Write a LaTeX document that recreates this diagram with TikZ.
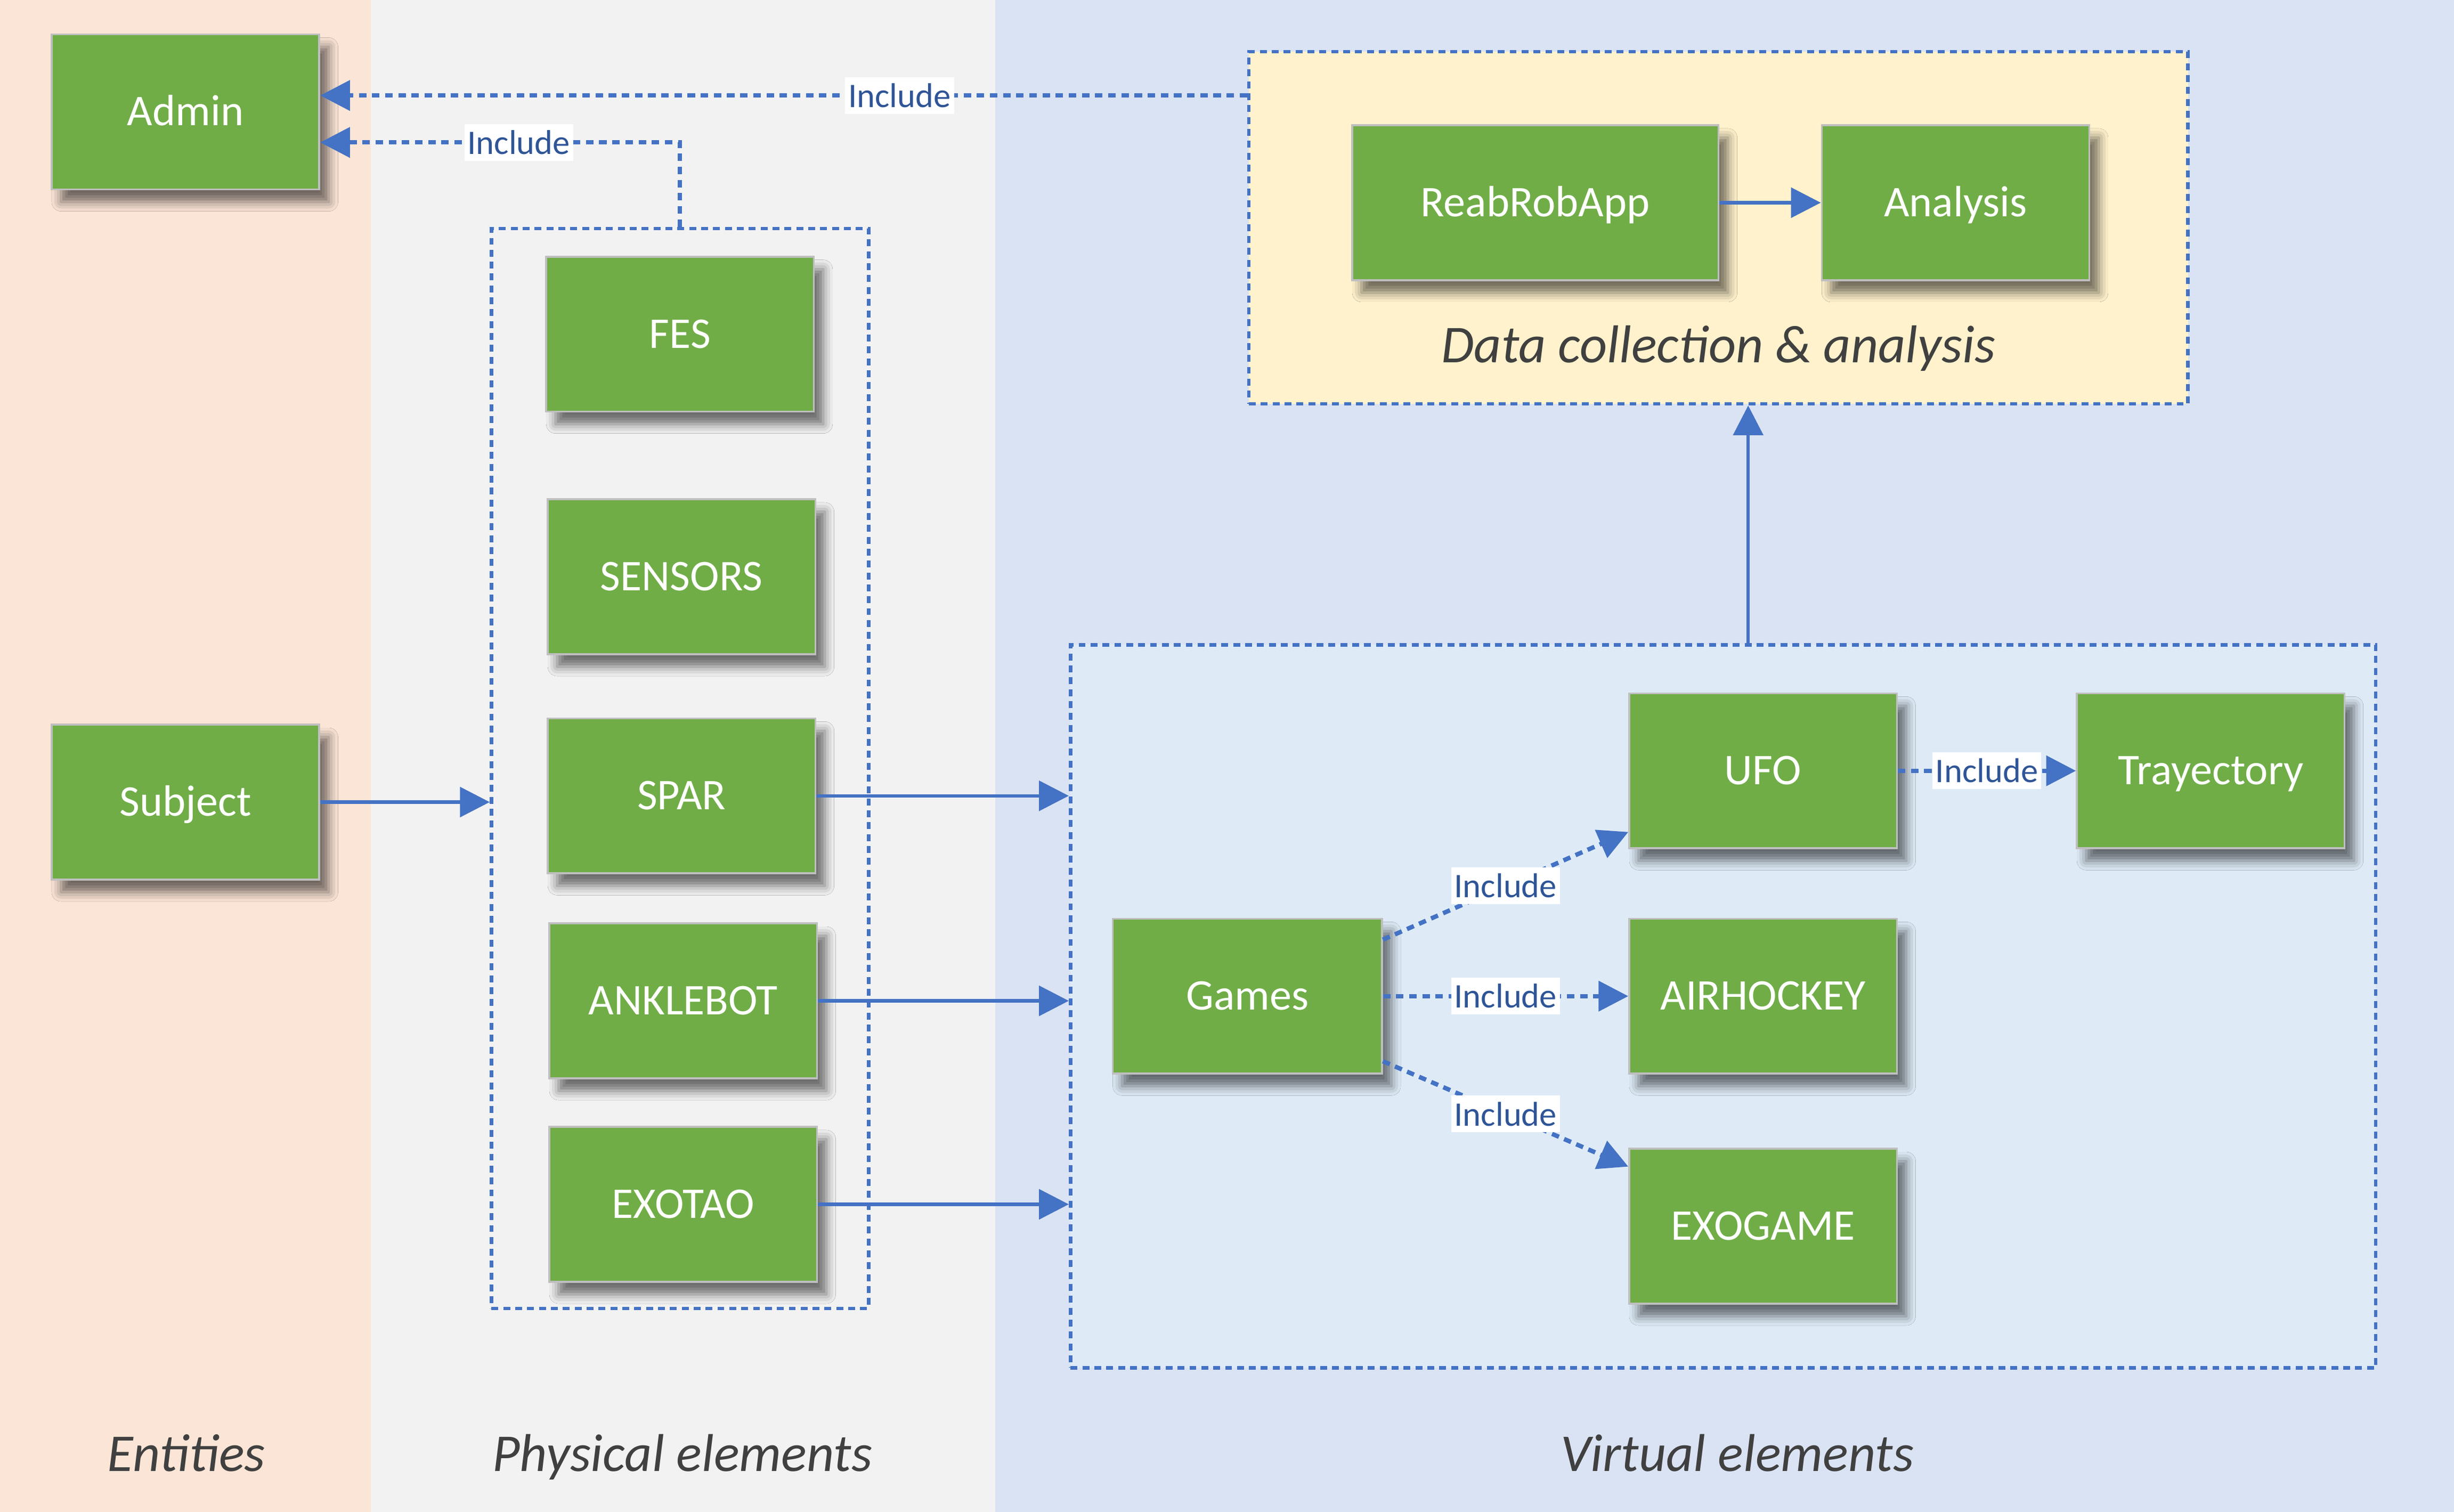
\documentclass[tikz,border=0pt]{standalone}
\usepackage{fontspec}
\setmainfont{Carlito}
\usetikzlibrary{arrows.meta,shadows.blur}
\definecolor{entc}{HTML}{FBE5D6}
\definecolor{physc}{HTML}{F2F2F2}
\definecolor{virtc}{HTML}{DAE3F3}
\definecolor{datac}{HTML}{FFF2CC}
\definecolor{vboxc}{HTML}{DEEBF7}
\definecolor{boxg}{HTML}{70AD47}
\definecolor{arrowb}{HTML}{4472C4}
\definecolor{labb}{HTML}{2F5597}
\definecolor{capg}{HTML}{404040}
\tikzset{
  gbox/.style={draw=black!25, line width=0.6pt, fill=boxg, text=white,
    minimum width=85.5pt, minimum height=49.5pt, inner sep=0pt,
    text height=11pt, text depth=2.2pt,
    font=\fontsize{14}{16}\selectfont,
    blur shadow={shadow xshift=3pt, shadow yshift=-4pt, shadow blur radius=3pt, shadow opacity=55}},
  dbox/.style={draw=arrowb, line width=1.1pt, dash pattern=on 2.2pt off 1.6pt, inner sep=0pt},
  solidarr/.style={draw=arrowb, line width=1.1pt, -{Triangle[length=9.5pt,width=9.5pt]}},
  dasharr/.style={draw=arrowb, line width=1.4pt, dash pattern=on 2.4pt off 1.8pt, -{Triangle[length=9.5pt,width=9.5pt]}},
  inc/.style={fill=white, text=labb, inner xsep=1pt, inner ysep=2pt, font=\fontsize{11}{12}\selectfont},
  captxt/.style={text=capg, anchor=base, font=\fontsize{17}{19}\selectfont\itshape}
}
\begin{document}
\begin{tikzpicture}[x=0.5pt,y=-0.5pt]
\useasboundingbox (0,0) rectangle (1568,966);
% bands
\fill[entc] (0,0) rectangle (237,966);
\fill[physc] (237,0) rectangle (636,966);
\fill[virtc] (636,0) rectangle (1568,966);
% containers
\node[dbox, minimum width=120.5pt, minimum height=345pt] (phys) at (434.5,491) {};
\node[dbox, fill=datac, minimum width=300pt, minimum height=112.5pt] (data) at (1098,145.5) {};
\node[dbox, fill=vboxc, minimum width=417pt, minimum height=231pt] (virt) at (1101,643) {};
% captions
\node[captxt] (capent) at (119,940) {Entities};
\node[captxt] (capphys) at (436,940) {Physical elements};
\node[captxt] (capvirt) at (1110,940) {Virtual elements};
\node[captxt] (capdata) at (1098,231.5) {Data collection \& analysis};
% boxes
\node[gbox] (admin) at (118.5,71.5) {Admin};
\node[gbox] (subject) at (118.5,512.5) {Subject};
\node[gbox] (fes) at (434.5,213.5) {FES};
\node[gbox] (sensors) at (435.5,368.5) {SENSORS};
\node[gbox] (spar) at (435.5,508.5) {SPAR};
\node[gbox] (anklebot) at (436.5,639.5) {ANKLEBOT};
\node[gbox] (exotao) at (436.5,769.5) {EXOTAO};
\node[gbox, minimum width=117pt] (reab) at (981,129.5) {ReabRobApp};
\node[gbox] (analysis) at (1249.5,129.5) {Analysis};
\node[gbox] (ufo) at (1126.5,492.5) {UFO};
\node[gbox] (tray) at (1412.5,492.5) {Trayectory};
\node[gbox, minimum width=86pt] (games) at (797,636.5) {Games};
\node[gbox] (airh) at (1126.5,636.5) {AIRHOCKEY};
\node[gbox] (exog) at (1126.5,783.5) {EXOGAME};
% helper coordinates
\coordinate (y61) at (0,61);
\coordinate (y91) at (0,91);
\coordinate (xup) at (1117,0);
% connectors
\draw[dasharr] (data.west |- y61) -- node[inc,pos=0.375]{Include} (admin.east |- y61);
\draw[dasharr] (phys.north) -- (phys.north |- y91) -- node[inc,pos=0.448]{Include} (admin.east |- y91);
\draw[solidarr] (subject.east) -- (phys.west |- subject.east);
\draw[solidarr] (spar.east) -- (virt.west |- spar.east);
\draw[solidarr] (anklebot.east) -- (virt.west |- anklebot.east);
\draw[solidarr] (exotao.east) -- (virt.west |- exotao.east);
\draw[solidarr] (virt.north -| xup) -- (data.south -| xup);
\draw[solidarr] (reab.east) -- (analysis.west);
\draw[dasharr] (ufo.east) -- node[inc]{Include} (tray.west);
\draw[dasharr] ([yshift=-7pt]games.north east) -- node[inc]{Include} ([yshift=5.5pt]ufo.south west);
\draw[dasharr] (games.east) -- node[inc]{Include} (airh.west);
\draw[dasharr] ([yshift=4.25pt]games.south east) -- node[inc]{Include} ([yshift=-6pt]exog.north west);
\end{tikzpicture}
\end{document}
